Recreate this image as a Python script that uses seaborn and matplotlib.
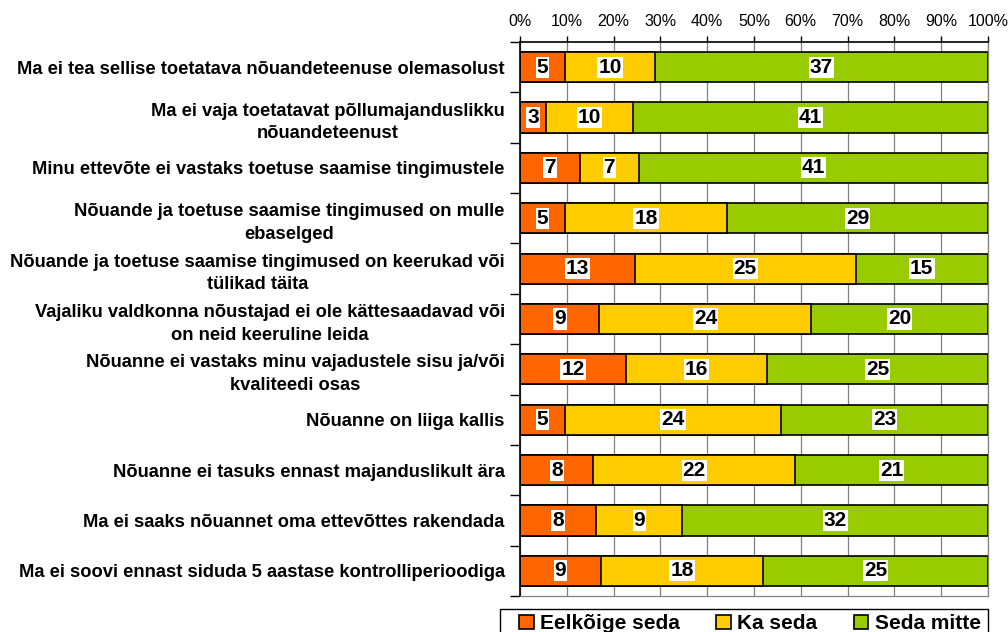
#!/usr/bin/env python3
# -*- coding: utf-8 -*-
"""
Põhjused, miks toetatavat nõuandeteenust ei kasutata – 100% tulpdiagramm.
"""
import numpy as np
import pandas as pd
import matplotlib
matplotlib.use('Agg')
import matplotlib.pyplot as plt
import matplotlib.patches as mpatches
from matplotlib.ticker import PercentFormatter
import seaborn as sns

categories = [
    'Ma ei tea sellise toetatava nõuandeteenuse olemasolust',
    'Ma ei vaja toetatavat põllumajanduslikku\nnõuandeteenust',
    'Minu ettevõte ei vastaks toetuse saamise tingimustele',
    'Nõuande ja toetuse saamise tingimused on mulle\nebaselged',
    'Nõuande ja toetuse saamise tingimused on keerukad või\ntülikad täita',
    'Vajaliku valdkonna nõustajad ei ole kättesaadavad või\non neid keeruline leida',
    'Nõuanne ei vastaks minu vajadustele sisu ja/või\nkvaliteedi osas',
    'Nõuanne on liiga kallis',
    'Nõuanne ei tasuks ennast majanduslikult ära',
    'Ma ei saaks nõuannet oma ettevõttes rakendada',
    'Ma ei soovi ennast siduda 5 aastase kontrolliperioodiga',
]
series_names = ['Eelkõige seda', 'Ka seda', 'Seda mitte']
eelkoige = [5, 3, 7, 5, 13, 9, 12, 5, 8, 8, 9]
ka_seda = [10, 10, 7, 18, 25, 24, 16, 24, 22, 9, 18]
seda_mitte = [37, 41, 41, 29, 15, 20, 25, 23, 21, 32, 25]
colors = ['#FF6600', '#FFCC00', '#99CC00']


def main():
    df = pd.DataFrame({
        'kategooria': categories,
        series_names[0]: eelkoige,
        series_names[1]: ka_seda,
        series_names[2]: seda_mitte,
    })
    counts = df[series_names].to_numpy(dtype=float)
    pct = counts / counts.sum(axis=1, keepdims=True) * 100
    cum = np.cumsum(pct, axis=1)

    sns.set_theme(style='white')
    plt.rcParams['font.family'] = ['Liberation Sans', 'DejaVu Sans']
    plt.rcParams['text.color'] = 'black'
    plt.rcParams['xtick.color'] = 'black'
    plt.rcParams['ytick.color'] = 'black'

    fig = plt.figure(figsize=(10.08, 6.32), dpi=100)
    ax = fig.add_axes([520 / 1008, 1 - 596 / 632, 468 / 1008, 554 / 632])

    # stacked bars: draw the cumulative totals from longest to shortest
    for j in range(2, -1, -1):
        sns.barplot(x=cum[:, j], y=df['kategooria'], orient='h', color=colors[j],
                    saturation=1, edgecolor='black', linewidth=1.2, width=0.6,
                    ax=ax, zorder=2)

    # value labels in the middle of each segment
    for i in range(len(categories)):
        for j in range(3):
            left = cum[i, j] - pct[i, j]
            ax.text(left + pct[i, j] / 2, i, f'{int(counts[i, j])}', ha='center', va='center',
                    fontsize=15, fontweight='bold', color='black', zorder=4,
                    bbox=dict(boxstyle='square,pad=0.05', facecolor='white', edgecolor='none'))

    ax.set_xlim(0, 100)
    ax.set_ylim(len(categories) - 0.5, -0.5)
    ax.xaxis.tick_top()
    ax.set_xticks(np.arange(0, 101, 10))
    ax.xaxis.set_major_formatter(PercentFormatter(decimals=0))
    ax.tick_params(axis='x', which='major', direction='out', length=4, width=1,
                   labelsize=11.5, pad=5)
    ax.set_xlabel('')
    ax.set_ylabel('')

    ax.set_yticks(np.arange(len(categories)))
    ax.set_yticklabels(categories, fontsize=13.2, fontweight='bold')
    for lbl in ax.get_yticklabels():
        lbl.set_multialignment('center')
        lbl.set_linespacing(1.45)
    ax.set_yticks(np.arange(-0.5, len(categories)), minor=True)
    ax.tick_params(axis='y', which='major', length=0, pad=11)
    ax.tick_params(axis='y', which='minor', direction='out', length=7, width=1, left=True)

    ax.grid(axis='x', color='#808080', linewidth=0.9, zorder=0)
    ax.set_axisbelow(True)
    for side in ['left', 'top']:
        ax.spines[side].set_color('black')
        ax.spines[side].set_linewidth(1.2)
    for side in ['right', 'bottom']:
        ax.spines[side].set_color('#808080')
        ax.spines[side].set_linewidth(0.9)

    # legend frame runs past the bottom edge of the figure, as in the original
    frame = mpatches.Rectangle((500 / 1008, -0.05), 488 / 1008, 0.05 + 1 - 609 / 632,
                               transform=fig.transFigure, facecolor='white',
                               edgecolor='black', linewidth=1)
    fig.patches.append(frame)
    handles = [mpatches.Patch(facecolor=c, edgecolor='black', linewidth=1.2) for c in colors]
    fig.legend(handles, series_names, loc='upper left', ncol=3,
               bbox_to_anchor=(514 / 1008, 1 - 609 / 632),
               prop={'weight': 'bold', 'size': 15}, frameon=False,
               handlelength=0.7, handleheight=0.7, handletextpad=0.3,
               borderpad=0.25, borderaxespad=0, columnspacing=1.75)

    fig.savefig('out.png', dpi=100)


if __name__ == '__main__':
    main()
